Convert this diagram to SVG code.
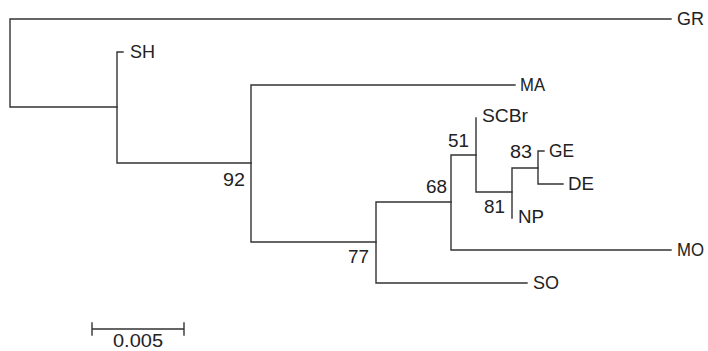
<svg xmlns="http://www.w3.org/2000/svg" width="708" height="351" viewBox="0 0 708 351">
<style>
.b{fill:none;stroke:#333;stroke-width:1.4;stroke-linecap:square}
text{font-family:"Liberation Sans",Arial,sans-serif;font-size:17.5px;fill:#222}
.bs{text-anchor:end}
</style>
<rect width="708" height="351" fill="#fff"/>
<g id="connectors">
<path class="b" d="M10,19V107M10,19H671M10,107H117"/>
<path class="b" d="M117,52V163M117,52H123M117,163H251"/>
<path class="b" d="M251,85V242M251,85H515M251,242H376"/>
<path class="b" d="M376,202V283M376,202H451M376,283H527"/>
<path class="b" d="M451,155V250M451,155H476M451,250H671"/>
<path class="b" d="M476,118V192M476,192H512"/>
<path class="b" d="M512,168V218M512,168H538"/>
<path class="b" d="M538,151V184M538,151H544M538,184H563"/>
<path class="b" d="M92,329H184M92,323V335M184,323V335"/>
</g>
<g id="GR"><text x="677" y="25" textLength="27" lengthAdjust="spacingAndGlyphs">GR</text></g>
<g id="SH"><text x="130" y="58" textLength="25" lengthAdjust="spacingAndGlyphs">SH</text></g>
<g id="MA"><text x="520" y="91" textLength="25" lengthAdjust="spacingAndGlyphs">MA</text></g>
<g id="SCBr"><text x="482" y="122" textLength="46" lengthAdjust="spacingAndGlyphs">SCBr</text></g>
<g id="GE"><text x="549" y="157" textLength="25" lengthAdjust="spacingAndGlyphs">GE</text></g>
<g id="DE"><text x="568" y="190" textLength="26" lengthAdjust="spacingAndGlyphs">DE</text></g>
<g id="NP"><text x="518" y="223" textLength="26" lengthAdjust="spacingAndGlyphs">NP</text></g>
<g id="MO"><text x="677" y="256" textLength="27" lengthAdjust="spacingAndGlyphs">MO</text></g>
<g id="SO"><text x="533" y="289" textLength="26" lengthAdjust="spacingAndGlyphs">SO</text></g>
<g id="bootstrap">
<text class="bs" x="245" y="186" textLength="22" lengthAdjust="spacingAndGlyphs">92</text>
<text class="bs" x="369" y="263" textLength="21" lengthAdjust="spacingAndGlyphs">77</text>
<text class="bs" x="447" y="193" textLength="21" lengthAdjust="spacingAndGlyphs">68</text>
<text class="bs" x="469" y="147" textLength="21" lengthAdjust="spacingAndGlyphs">51</text>
<text class="bs" x="532" y="158" textLength="22" lengthAdjust="spacingAndGlyphs">83</text>
<text class="bs" x="505" y="213" textLength="21" lengthAdjust="spacingAndGlyphs">81</text>
</g>
<g id="scale"><text x="138" y="347" text-anchor="middle" textLength="50" lengthAdjust="spacingAndGlyphs">0.005</text></g>
</svg>
